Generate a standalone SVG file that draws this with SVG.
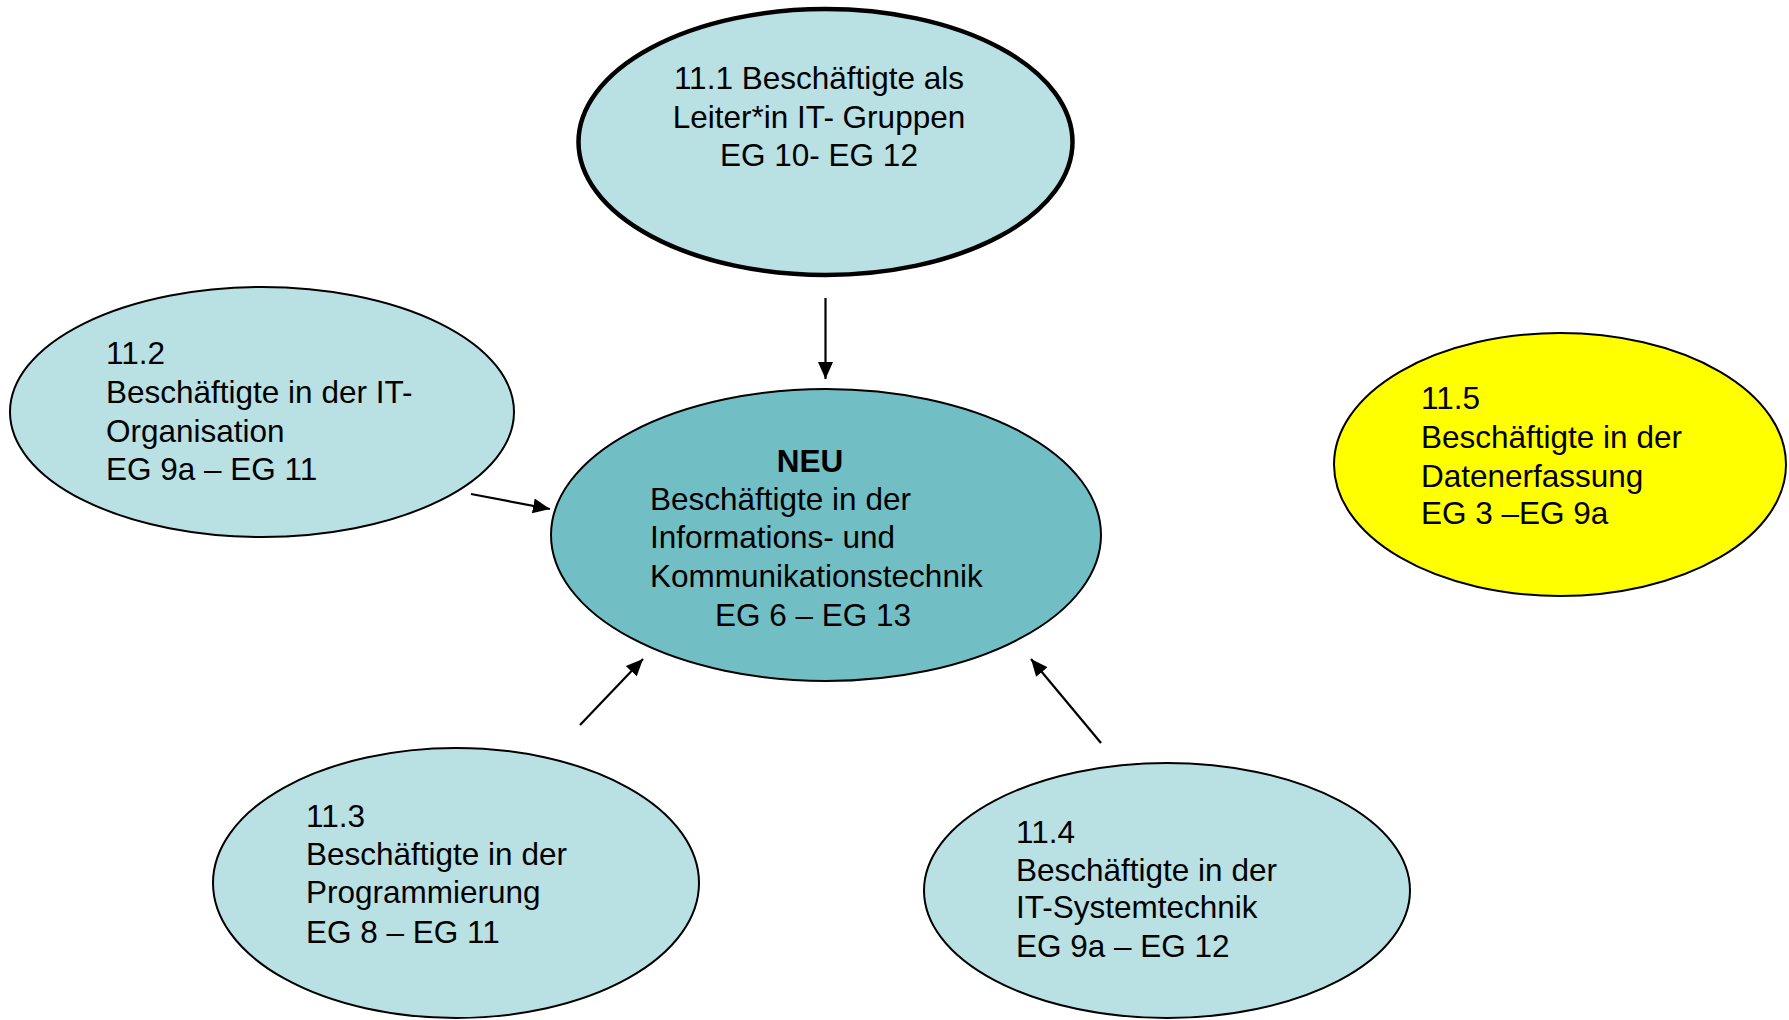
<svg xmlns="http://www.w3.org/2000/svg" width="1789" height="1020" viewBox="0 0 1789 1020">
<style>
.lt{fill:#B9E0E3;stroke:#000;stroke-width:2}
.t{font-family:"Liberation Sans",Arial,sans-serif;font-size:31.5px;fill:#000}
.con{stroke:#000;stroke-width:2.2;fill:none;marker-end:url(#ah)}
</style>
<defs>
<marker id="ah" markerUnits="userSpaceOnUse" markerWidth="18" markerHeight="18" viewBox="0 0 18 18" refX="17" refY="9" orient="auto">
<path d="M0,1.5 L17,9 L0,16.5 Z" fill="#000"/>
</marker>
</defs>
<rect width="1789" height="1020" fill="#fff"/>
<g id="connectors">
<line class="con" x1="825.5" y1="298" x2="825.5" y2="379"/>
<line class="con" x1="471" y1="494" x2="550" y2="509"/>
<line class="con" x1="580" y1="725" x2="643" y2="659"/>
<line class="con" x1="1101" y1="743" x2="1031" y2="659"/>
</g>
<g id="n11_1">
<ellipse cx="825.5" cy="142" rx="247" ry="133" fill="#B9E0E3" stroke="#000" stroke-width="4.5"/>
<text class="t" text-anchor="middle" x="819" y="89">11.1 Beschäftigte als</text>
<text class="t" text-anchor="middle" x="819" y="128">Leiter*in IT- Gruppen</text>
<text class="t" text-anchor="middle" x="819" y="166">EG 10- EG 12</text>
</g>
<g id="n11_2">
<ellipse class="lt" cx="262" cy="412" rx="252" ry="125"/>
<text class="t" x="106" y="364">11.2</text>
<text class="t" x="106" y="403">Beschäftigte in der IT-</text>
<text class="t" x="106" y="442">Organisation</text>
<text class="t" x="106" y="480">EG 9a – EG 11</text>
</g>
<g id="neu">
<ellipse cx="826" cy="535" rx="275" ry="146" fill="#71BEC4" stroke="#000" stroke-width="2"/>
<text class="t" text-anchor="middle" x="810" y="472" font-weight="bold">NEU</text>
<text class="t" x="650" y="510">Beschäftigte in der</text>
<text class="t" x="650" y="548">Informations- und</text>
<text class="t" x="650" y="587">Kommunikationstechnik</text>
<text class="t" text-anchor="middle" x="813" y="626">EG 6 – EG 13</text>
</g>
<g id="n11_5">
<ellipse cx="1560" cy="464.5" rx="226" ry="131.5" fill="#FFFF00" stroke="#000" stroke-width="2"/>
<text class="t" x="1421" y="409">11.5</text>
<text class="t" x="1421" y="448">Beschäftigte in der</text>
<text class="t" x="1421" y="487">Datenerfassung</text>
<text class="t" x="1421" y="524">EG 3 –EG 9a</text>
</g>
<g id="n11_3">
<ellipse class="lt" cx="456" cy="883" rx="243" ry="135"/>
<text class="t" x="306" y="827">11.3</text>
<text class="t" x="306" y="865">Beschäftigte in der</text>
<text class="t" x="306" y="903">Programmierung</text>
<text class="t" x="306" y="943">EG 8 – EG 11</text>
</g>
<g id="n11_4">
<ellipse class="lt" cx="1167" cy="890.5" rx="243" ry="127.5"/>
<text class="t" x="1016" y="843">11.4</text>
<text class="t" x="1016" y="881">Beschäftigte in der</text>
<text class="t" x="1016" y="918">IT-Systemtechnik</text>
<text class="t" x="1016" y="957">EG 9a – EG 12</text>
</g>
</svg>
